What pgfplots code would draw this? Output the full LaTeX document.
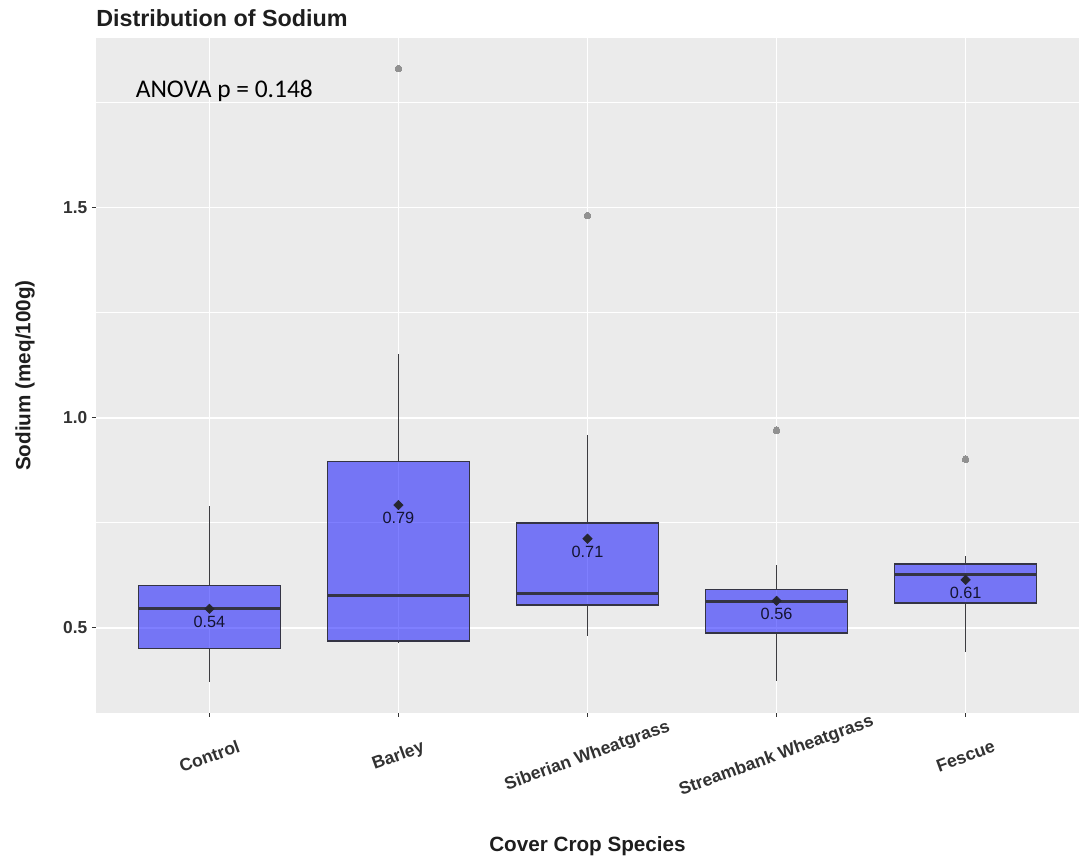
\documentclass[border=0pt]{standalone}
\usepackage{pgfplots}
\pgfplotsset{compat=1.18}
\usepgfplotslibrary{statistics}
\usepackage{fontspec}
\setmainfont{Liberation Sans}
\newfontfamily\carlito{Carlito}
\definecolor{panelbg}{RGB}{235,235,235}
\definecolor{boxfill}{RGB}{0,0,255}
\definecolor{boxedge}{RGB}{52,52,68}
\definecolor{whiskcol}{RGB}{60,60,64}
\definecolor{tickcol}{RGB}{51,51,51}
\definecolor{ticktext}{RGB}{50,50,50}
\definecolor{outcol}{RGB}{145,145,145}
\definecolor{meancol}{RGB}{38,38,48}
\definecolor{labcol}{RGB}{20,20,50}
\definecolor{titlecol}{RGB}{30,30,30}

\pgfplotsset{
  boxplot/draw/median/.code={%
    \draw[line width=2pt, draw=boxedge, fill=none, fill opacity=1]
      (boxplot box cs:\pgfplotsboxplotvalue{median},0) --
      (boxplot box cs:\pgfplotsboxplotvalue{median},1);
  },
  boxplot/every whisker/.style={draw=whiskcol, line width=1pt, fill=none},
  mybox/.style={draw=boxedge, fill=boxfill, fill opacity=0.5, line width=1.1pt, solid, mark=none},
}

\begin{document}
\begin{tikzpicture}
\useasboundingbox (-72pt,-109.5pt) rectangle (737.25pt,534.75pt);
\begin{axis}[
  name=ax,
  at={(0pt,0pt)}, anchor=south west,
  scale only axis, width=737.25pt, height=506.25pt,
  xmin=0.4, xmax=5.6, ymin=0.297, ymax=1.904,
  axis background/.style={fill=panelbg},
  axis line style={draw=none},
  xtick={1,2,3,4,5},
  xticklabels={Control,Barley,Siberian Wheatgrass,Streambank Wheatgrass,Fescue},
  ytick={0.5,1.0,1.5},
  yticklabels={0.5,1.0,1.5},
  minor ytick={0.75,1.25,1.75},
  xmajorgrids, ymajorgrids, yminorgrids,
  major grid style={white, line width=1.2pt},
  minor grid style={white, line width=0.6pt},
  tick align=outside,
  xtick pos=bottom, ytick pos=left,
  major tick length=3pt, minor tick length=0pt,
  tick style={draw=tickcol, line width=0.8pt},
  xticklabel style={yshift=-29.5pt, rotate=20, anchor=center, font=\bfseries\fontsize{13.2}{15}\selectfont, text=ticktext},
  yticklabel style={font=\bfseries\fontsize{13}{15}\selectfont, text=ticktext},
  xlabel={Cover Crop Species},
  xlabel style={at={(axis description cs:0.5,-0.2055)}, anchor=base, inner sep=0pt, font=\bfseries\fontsize{15.5}{18}\selectfont, text=titlecol},
  ylabel={Sodium (meq/100g)},
  ylabel style={at={(axis description cs:-0.07223,0.5)}, anchor=center, inner sep=0pt, font=\bfseries\fontsize{15.5}{18}\selectfont, text=titlecol},
  boxplot/draw direction=y,
  boxplot/box extend=0.75,
  boxplot/whisker extend=0,
]
% Control
\addplot[mybox, boxplot prepared={draw position=1, lower whisker=0.370, lower quartile=0.450, median=0.545, upper quartile=0.601, upper whisker=0.790}] coordinates {};
% Barley
\addplot[mybox, boxplot prepared={draw position=2, lower whisker=0.463, lower quartile=0.468, median=0.577, upper quartile=0.896, upper whisker=1.152}] coordinates {};
% Siberian Wheatgrass
\addplot[mybox, boxplot prepared={draw position=3, lower whisker=0.481, lower quartile=0.554, median=0.581, upper quartile=0.749, upper whisker=0.960}] coordinates {};
% Streambank Wheatgrass
\addplot[mybox, boxplot prepared={draw position=4, lower whisker=0.372, lower quartile=0.487, median=0.562, upper quartile=0.591, upper whisker=0.650}] coordinates {};
% Fescue
\addplot[mybox, boxplot prepared={draw position=5, lower whisker=0.443, lower quartile=0.559, median=0.627, upper quartile=0.652, upper whisker=0.671}] coordinates {};
% outliers
\addplot[only marks, mark=*, mark size=2.5pt, mark options={fill=outcol, draw=outcol, line width=0pt}] coordinates {(2,1.831) (3,1.481) (4,0.970) (5,0.901)};
% means with labels
\addplot[only marks, mark=square*, mark size=2.5pt, mark options={rotate=45, fill=meancol, draw=meancol},
  nodes near coords, point meta=explicit symbolic,
  every node near coord/.append style={anchor=center, yshift=-9.75pt, font=\fontsize{12.2}{14}\selectfont, text=labcol}]
  table[meta=label] {
x y label
1 0.545 0.54
2 0.792 0.79
3 0.712 0.71
4 0.564 0.56
5 0.614 0.61
};
\node[anchor=base west, inner sep=0pt, font=\carlito\fontsize{19.1}{21}\selectfont] at (axis cs:0.609,1.762) {ANOVA p = 0.148};
\end{axis}
\node[anchor=base west, inner sep=0pt, font=\bfseries\fontsize{17.5}{20}\selectfont, text=titlecol] at (0pt,515.0pt) {Distribution of Sodium};
\end{tikzpicture}
\end{document}
